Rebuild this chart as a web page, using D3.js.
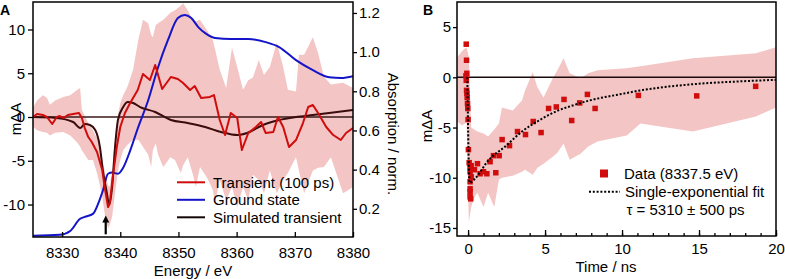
<!DOCTYPE html>
<html>
<head>
<meta charset="utf-8">
<script src="https://cdn.jsdelivr.net/npm/d3@7"></script>
<style>
  body { margin: 0; background: #fff; }
  svg { display: block; font-family: "Liberation Sans", Arial, sans-serif; }
</style>
</head>
<body>
<div id="chart"></div>
<script>
// ---------- Panel A : XANES transient ----------
var transientE = [8325.0, 8325.7, 8326.7, 8327.4, 8328.3, 8329.1, 8329.6, 8330.2, 8331.0, 8331.9, 8332.9, 8333.4, 8333.9, 8334.5, 8335.1, 8336.0, 8336.9, 8337.4, 8337.9, 8338.2, 8338.8, 8339.4, 8340.0, 8340.8, 8341.7, 8343.0, 8343.9, 8345.1, 8346.0, 8347.2, 8348.7, 8349.9, 8350.8, 8352.0, 8352.8, 8353.9, 8355.4, 8356.1, 8357.1, 8358.0, 8359.0, 8360.1, 8360.9, 8362.0, 8363.3, 8364.2, 8365.0, 8366.3, 8367.1, 8368.0, 8369.0, 8370.2, 8371.4, 8372.3, 8373.1, 8374.0, 8375.4, 8376.6, 8377.9, 8378.8, 8380.0];
var transientV = [0.0, 0.34, 0.23, 0.0, -0.8, 0.0, 0.11, -0.11, 0.23, 0.34, 0.46, -0.11, -1.26, -2.29, -2.86, -4.0, -6.06, -8.34, -10.29, -9.83, -6.4, -3.43, -1.14, 0.46, 1.6, 3.09, 4.91, 4.23, 5.94, 3.2, 4.57, 4.34, 3.89, 3.09, 3.54, 2.17, 2.29, 2.51, -0.34, -2.06, 0.46, -0.11, -3.77, -1.83, -1.14, -0.57, -1.83, -1.71, 0.0, -1.14, -3.43, -2.63, -0.69, 1.14, 1.37, 0.46, -1.14, -2.06, -2.63, -1.83, -1.26];

var groundE = [8325, 8329.6, 8331.4, 8333.1, 8333.9, 8335.3, 8336.2, 8337.0, 8337.9, 8338.6, 8339.6, 8340.5, 8341.7, 8343.0, 8344.8, 8346.5, 8348.2, 8349.9, 8351.1, 8352.2, 8353.4, 8354.6, 8356.3, 8359.0, 8362.0, 8365.0, 8367.3, 8370.2, 8373.1, 8375.9, 8378.0, 8380.0];
var groundA = [0.062, 0.067, 0.087, 0.149, 0.159, 0.174, 0.226, 0.292, 0.379, 0.385, 0.379, 0.41, 0.497, 0.61, 0.754, 0.923, 1.062, 1.174, 1.19, 1.174, 1.128, 1.097, 1.072, 1.067, 1.067, 1.051, 1.026, 0.959, 0.908, 0.872, 0.868, 0.877];

var simE = [8325, 8329, 8331.9, 8333.1, 8333.9, 8334.8, 8335.7, 8336.5, 8337.0, 8337.7, 8338.1, 8338.6, 8339.1, 8339.6, 8340.5, 8341.3, 8342.2, 8343.4, 8346.0, 8348.7, 8351.6, 8354.6, 8357.3, 8360.2, 8361.8, 8364.5, 8367.3, 8370.2, 8373.1, 8375.9, 8380];
var simV = [0, -0.1, -0.57, -1.26, -0.8, -0.91, -1.49, -3.43, -6.06, -8.69, -10.06, -8.0, -3.43, -0.34, 1.14, 1.71, 1.6, 1.14, 0.57, -0.34, -0.69, -1.14, -1.71, -2.06, -1.83, -0.91, -0.34, 0, 0.23, 0.46, 0.8];

// error band of the transient
var bandE = [8325.0, 8325.7, 8326.7, 8327.4, 8327.9, 8328.8, 8330.2, 8331.4, 8332.6, 8333.1, 8333.4, 8334.5, 8335.3, 8336.0, 8336.5, 8336.9, 8337.4, 8337.9, 8338.2, 8338.6, 8339.1, 8339.6, 8340.0, 8340.5, 8341.2, 8342.2, 8343.1, 8343.9, 8344.8, 8345.3, 8345.6, 8346.1, 8346.5, 8347.4, 8348.6, 8349.4, 8350.4, 8350.8, 8351.6, 8352.5, 8353.0, 8353.7, 8354.9, 8355.9, 8356.3, 8357.1, 8358.2, 8359.2, 8360.1, 8361.1, 8362.0, 8362.8, 8363.8, 8364.7, 8365.7, 8366.9, 8368.0, 8368.8, 8370.2, 8370.7, 8371.6, 8373.1, 8374.0, 8375.0, 8376.2, 8378.3, 8380.0];
var bandHi = [1.1, 1.9, 2.5, 2.2, 1.4, 1.9, 2.3, 2.5, 3.1, 3.3, 0.8, -0.7, -1.5, -2.4, -3.4, -4.9, -6.4, -7.8, -8.0, -6.1, -2.6, 0.2, 1.6, 2.5, 3.4, 5.4, 8.8, 11.1, 10.7, 9.4, 9.1, 10.5, 10.7, 11.1, 11.9, 12.2, 12.7, 13.0, 12.2, 11.1, 10.9, 11.1, 9.9, 8.8, 7.7, 5.4, 3.3, 7.9, 5.7, 3.1, 4.2, 4.5, 6.5, 4.8, 5.7, 8.5, 5.7, 3.1, 2.9, 7.1, 7.1, 9.1, 7.3, 4.6, 3.7, 3.9, 3.3];
var bandLo = [-1.1, -1.5, -1.7, -1.8, -2.1, -1.8, -1.7, -2.1, -2.9, -3.4, -3.8, -4.9, -4.9, -6.4, -7.8, -9.1, -11.4, -12.7, -12.3, -11.4, -8.7, -6.1, -4.9, -3.8, -3.2, -2.6, -2.6, -3.4, -4.3, -5.7, -3.8, -3.0, -4.3, -5.7, -4.6, -4.9, -6.4, -5.5, -4.6, -6.6, -8.0, -5.7, -6.9, -8.3, -9.8, -7.2, -9.5, -8.0, -10.3, -8.0, -9.5, -6.6, -7.2, -8.7, -6.1, -8.7, -7.2, -6.4, -4.6, -6.1, -8.7, -6.1, -5.8, -5.7, -4.6, -8.7, -8.0];

var ticksEnergy = [8330, 8340, 8350, 8360, 8370, 8380];
var ticksDeltaA = [-10, -5, 0, 5, 10];
var ticksAbs = [0.2, 0.4, 0.6, 0.8, 1.0, 1.2];
var probeEnergy = 8337.5;

// ---------- Panel B : kinetics ----------
var dataT = [-0.12, -0.1, -0.08, -0.14, -0.12, -0.1, -0.08, -0.06, -0.04, -0.02, 0.0, 0.02, 0.07, 0.13, 0.13, 0.2, 0.13, 0.13, 0.13, 0.13, 0.17, 0.2, 0.41, 0.61, 0.78, 1.0, 1.22, 1.43, 1.65, 1.8, 2.02, 2.21, 2.69, 3.21, 3.73, 4.23, 4.74, 5.23, 5.73, 6.23, 6.73, 7.25, 7.75, 8.25, 11.06, 14.85, 18.68];
var dataV = [3.3, 1.7, 0.4, 0.15, -0.3, -1.3, -1.6, -2.0, -2.6, -3.1, -4.2, -7.2, -8.5, -8.9, -9.4, -9.9, -10.4, -11.1, -11.4, -11.9, -12.1, -8.8, -9.2, -8.6, -9.6, -9.4, -9.6, -8.4, -7.8, -9.5, -7.8, -6.2, -6.8, -5.4, -5.7, -4.4, -5.5, -3.1, -2.95, -2.2, -4.3, -2.55, -1.7, -3.1, -1.8, -1.85, -0.9];

var fitT = [-0.05, 0.1, 0.5, 1.3, 2.4, 3.5, 4.6, 5.7, 6.8, 7.9, 10.0, 11.2, 14.5, 17.7, 20.0];
var fitV = [0, -10.5, -10.0, -8.3, -6.9, -5.4, -4.3, -3.4, -2.8, -2.3, -1.65, -1.3, -0.7, -0.4, -0.25];

var bandT = [-0.7, -0.4, -0.1, 0.05, 0.2, 0.4, 0.6, 1.0, 1.3, 1.7, 2.0, 2.2, 2.9, 3.5, 3.7, 4.2, 4.5, 4.9, 5.5, 5.8, 6.2, 6.6, 7.3, 7.8, 8.4, 10.3, 11.2, 14.6, 18.7, 20.0];
var bandBHi = [2.0, 2.6, 3.0, 2.0, -5.0, -5.2, -5.4, -5.6, -5.9, -5.2, -4.6, -3.0, -3.3, -2.3, -1.3, 0.5, -1.0, -2.0, -0.1, 0.7, 1.9, 0.4, -0.1, 0.4, 0.7, 0.9, 1.1, 1.9, 2.4, 3.0];
var bandBLo = [-4.4, -4.8, -4.5, -14.4, -12.9, -12.0, -11.5, -12.9, -11.5, -12.9, -10.2, -10.0, -9.8, -9.4, -9.2, -9.7, -9.0, -8.6, -7.9, -7.5, -6.6, -8.2, -7.6, -6.9, -6.4, -5.8, -4.6, -5.4, -3.9, -3.0];

var ticksTime = [0, 5, 10, 15, 20];
var ticksTimeMinor = d3.range(0, 21, 1);
var ticksDeltaB = [-15, -10, -5, 0, 5];

// colours
var red = "#d00c0c", blue = "#1414c8", brown = "#3a0c0c", pink = "#f3c5c5";

var svg = d3.select("#chart").append("svg")
    .attr("width", 785)
    .attr("height", 279);

var minusFmt = function(f) { return function(d) { return f(d).replace("\u2212", "-"); }; };

function styleAxis(g) {
    g.attr("font-size", 15).attr("font-family", null);
    g.select(".domain").remove();
    g.selectAll(".tick line").attr("stroke", "#000").attr("stroke-width", 1.3);
    g.selectAll(".tick text").attr("fill", "#000");
}

// ================= Panel A =================
var xA = d3.scaleLinear().domain([8325, 8380]).range([33, 353]);
var yA = d3.scaleLinear().domain([-13.71, 13.14]).range([237, 2]);
var yR = d3.scaleLinear().domain([0.056, 1.256]).range([237, 2]);

svg.append("clipPath").attr("id", "clipA")
  .append("rect").attr("x", 33).attr("y", 2).attr("width", 320).attr("height", 235);

var gA = svg.append("g").attr("clip-path", "url(#clipA)");

var bandRows = bandE.map(function(e, i) { return {e: e, hi: bandHi[i], lo: bandLo[i]}; });
gA.append("path")
    .datum(bandRows)
    .attr("fill", pink)
    .attr("d", d3.area().x(function(d) { return xA(d.e); })
        .y0(function(d) { return yA(d.lo); })
        .y1(function(d) { return yA(d.hi); }));

// zero line
gA.append("line")
    .attr("x1", 33).attr("x2", 353)
    .attr("y1", yA(0)).attr("y2", yA(0))
    .attr("stroke", "#3a1a1a").attr("stroke-width", 1.3);

// ground state (right axis)
gA.append("path")
    .datum(groundE.map(function(e, i) { return [e, groundA[i]]; }))
    .attr("fill", "none").attr("stroke", blue).attr("stroke-width", 2)
    .attr("d", d3.line().curve(d3.curveMonotoneX)
        .x(function(d) { return xA(d[0]); }).y(function(d) { return yR(d[1]); }));

// simulated transient
gA.append("path")
    .datum(simE.map(function(e, i) { return [e, simV[i]]; }))
    .attr("fill", "none").attr("stroke", brown).attr("stroke-width", 2)
    .attr("d", d3.line().curve(d3.curveMonotoneX)
        .x(function(d) { return xA(d[0]); }).y(function(d) { return yA(d[1]); }));

// measured transient
gA.append("path")
    .datum(transientE.map(function(e, i) { return [e, transientV[i]]; }))
    .attr("fill", "none").attr("stroke", red).attr("stroke-width", 2)
    .attr("stroke-linejoin", "round")
    .attr("d", d3.line()
        .x(function(d) { return xA(d[0]); }).y(function(d) { return yA(d[1]); }));

// arrow marking the probe energy
var ax = xA(probeEnergy), ayTip = yA(-11.25), ayEnd = yA(-13.4);
svg.append("line")
    .attr("x1", ax).attr("x2", ax).attr("y1", ayTip + 5).attr("y2", ayEnd)
    .attr("stroke", "#000").attr("stroke-width", 2.2);
svg.append("path")
    .attr("d", "M" + ax + "," + ayTip + "L" + (ax - 3.5) + "," + (ayTip + 7) + "L" + (ax + 3.5) + "," + (ayTip + 7) + "Z")
    .attr("fill", "#000");

// frame
svg.append("rect")
    .attr("x", 33).attr("y", 2).attr("width", 320).attr("height", 235)
    .attr("fill", "none").attr("stroke", "#000").attr("stroke-width", 1.5);

// axes
svg.append("g").attr("transform", "translate(0,237)")
    .call(d3.axisBottom(xA).tickValues(ticksEnergy).tickSize(-5).tickPadding(10).tickFormat(d3.format("d")))
    .call(styleAxis);
svg.append("g").attr("transform", "translate(33,0)")
    .call(d3.axisLeft(yA).tickValues(ticksDeltaA).tickSize(5).tickPadding(3).tickFormat(minusFmt(d3.format("d"))))
    .call(styleAxis);
svg.append("g").attr("transform", "translate(353,0)")
    .call(d3.axisRight(yR).tickValues(ticksAbs).tickSize(4).tickPadding(2).tickFormat(d3.format(".1f")))
    .call(styleAxis);

// axis titles
svg.append("text").attr("x", 193).attr("y", 275.5).attr("text-anchor", "middle")
    .attr("font-size", 15).text("Energy / eV");
svg.append("text").attr("transform", "translate(20.5,119) rotate(-90)").attr("text-anchor", "middle")
    .attr("font-size", 15).text("m\u0394A");
svg.append("text").attr("transform", "translate(388,134) rotate(90)").attr("text-anchor", "middle")
    .attr("font-size", 15).text("Absorption / norm.");
svg.append("text").attr("x", 0).attr("y", 15).attr("font-size", 14).attr("font-weight", "bold").text("A");

// legend A
var legendA = [
    {label: "Transient (100 ps)", color: red},
    {label: "Ground state", color: blue},
    {label: "Simulated transient", color: "#140606"}
];
var legA = svg.selectAll("g.legA").data(legendA).enter().append("g")
    .attr("class", "legA")
    .attr("transform", function(d, i) { return "translate(177," + (182.3 + i * 17.5) + ")"; });
legA.append("line").attr("x1", 0).attr("x2", 28)
    .attr("stroke", function(d) { return d.color; }).attr("stroke-width", 2);
legA.append("text").attr("x", 36).attr("y", 5.2).attr("font-size", 15)
    .text(function(d) { return d.label; });

// ================= Panel B =================
var xB = d3.scaleLinear().domain([-0.72, 20]).range([457, 776]);
var yB = d3.scaleLinear().domain([-15.8, 7.5]).range([236, 2]);

svg.append("clipPath").attr("id", "clipB")
  .append("rect").attr("x", 457).attr("y", 2).attr("width", 319).attr("height", 234);

var gB = svg.append("g").attr("clip-path", "url(#clipB)");

var bandBRows = bandT.map(function(t, i) { return {t: t, hi: bandBHi[i], lo: bandBLo[i]}; });
gB.append("path")
    .datum(bandBRows)
    .attr("fill", pink)
    .attr("d", d3.area().x(function(d) { return xB(d.t); })
        .y0(function(d) { return yB(d.lo); })
        .y1(function(d) { return yB(d.hi); }));

gB.append("line")
    .attr("x1", 457).attr("x2", 776)
    .attr("y1", yB(0)).attr("y2", yB(0))
    .attr("stroke", "#1a0a0a").attr("stroke-width", 1.5);

var sq = 5.5;
gB.selectAll("rect.pt")
    .data(dataT.map(function(t, i) { return [t, dataV[i]]; }))
    .enter().append("rect")
    .attr("class", "pt")
    .attr("x", function(d) { return xB(d[0]) - sq / 2; })
    .attr("y", function(d) { return yB(d[1]) - sq / 2; })
    .attr("width", sq).attr("height", sq)
    .attr("fill", red);

gB.append("path")
    .datum(fitT.map(function(t, i) { return [t, fitV[i]]; }))
    .attr("fill", "none").attr("stroke", "#000").attr("stroke-width", 2)
    .attr("stroke-dasharray", "2,1.8")
    .attr("d", d3.line().curve(d3.curveMonotoneX)
        .x(function(d) { return xB(d[0]); }).y(function(d) { return yB(d[1]); }));

svg.append("rect")
    .attr("x", 457).attr("y", 2).attr("width", 319).attr("height", 234)
    .attr("fill", "none").attr("stroke", "#000").attr("stroke-width", 1.5);

svg.append("g").attr("transform", "translate(0,236)")
    .call(d3.axisBottom(xB).tickValues(ticksTimeMinor).tickSize(-3).tickFormat(""))
    .call(styleAxis);
svg.append("g").attr("transform", "translate(0,236)")
    .call(d3.axisBottom(xB).tickValues(ticksTime).tickSize(-6).tickPadding(7.4).tickFormat(d3.format("d")))
    .call(styleAxis);
svg.append("g").attr("transform", "translate(457,0)")
    .call(d3.axisLeft(yB).tickValues(ticksDeltaB).tickSize(4).tickPadding(2).tickFormat(minusFmt(d3.format("d"))))
    .call(styleAxis);

svg.append("text").attr("x", 606).attr("y", 271.5).attr("text-anchor", "middle")
    .attr("font-size", 15).text("Time / ns");
svg.append("text").attr("transform", "translate(431.5,126) rotate(-90)").attr("text-anchor", "middle")
    .attr("font-size", 15).text("m\u0394A");
svg.append("text").attr("x", 423).attr("y", 15).attr("font-size", 14).attr("font-weight", "bold").text("B");

// legend B
svg.append("rect").attr("x", 600).attr("y", 169.5).attr("width", 8).attr("height", 8).attr("fill", red);
svg.append("text").attr("x", 624).attr("y", 179).attr("font-size", 15).text("Data (8337.5 eV)");
svg.append("line").attr("x1", 589).attr("x2", 620).attr("y1", 191.7).attr("y2", 191.7)
    .attr("stroke", "#000").attr("stroke-width", 2).attr("stroke-dasharray", "2,1.8");
svg.append("text").attr("x", 625).attr("y", 197.4).attr("font-size", 15).text("Single-exponential fit");
svg.append("text").attr("x", 626.5).attr("y", 214.7).attr("font-size", 15).text("\u03c4 = 5310 \u00b1 500 ps");
</script>
</body>
</html>
